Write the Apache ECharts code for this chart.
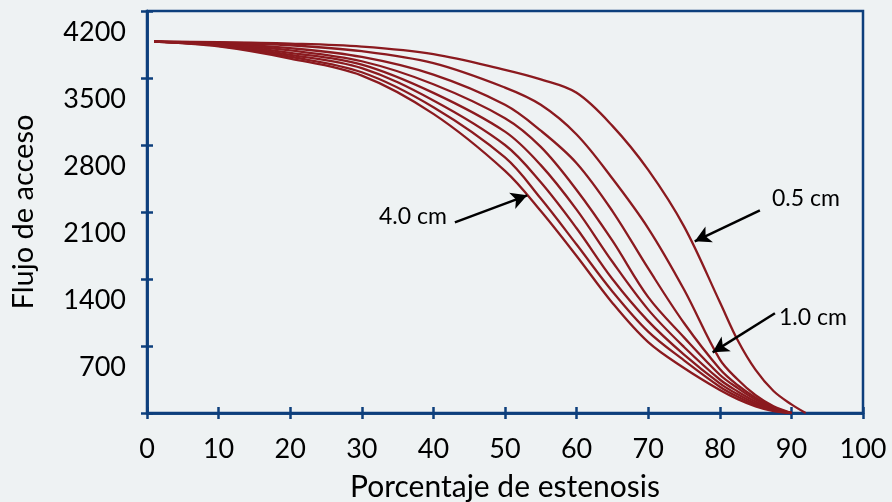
<!DOCTYPE html>
<html>
<head>
<meta charset="utf-8">
<script src="https://cdn.jsdelivr.net/npm/echarts@6/dist/echarts.min.js"></script>
<style>
html,body{margin:0;padding:0;background:#EEF2F3;}
#chart{width:892px;height:502px;}
</style>
</head>
<body>
<div id="chart"></div>
<script>
// Porcentaje de estenosis (x values)
const xValues = [1, 10, 20, 30, 40, 50, 55, 60, 65, 70, 75, 80, 82.5, 85, 87.5, 90, 92];
// Flujo de acceso per stenosis length
const curve05 = [3880, 3875, 3860, 3828, 3750, 3585, 3485, 3345, 3000, 2540, 1950, 1160, 760, 450, 230, 90, 0];
const curve10 = [3880, 3870, 3842, 3780, 3655, 3400, 3220, 2910, 2450, 1930, 1290, 560, 350, 185, 70, 0, null];
const curve15 = [3880, 3862, 3812, 3720, 3535, 3220, 2950, 2610, 2110, 1510, 940, 460, 290, 160, 60, 0, null];
const curve20 = [3880, 3855, 3788, 3675, 3435, 3080, 2780, 2330, 1800, 1210, 790, 400, 260, 140, 50, 0, null];
const curve25 = [3880, 3848, 3763, 3640, 3345, 2940, 2590, 2125, 1580, 1080, 690, 350, 225, 120, 42, 0, null];
const curve30 = [3880, 3842, 3742, 3603, 3265, 2800, 2410, 1930, 1400, 960, 610, 310, 195, 100, 35, 0, null];
const curve35 = [3880, 3836, 3722, 3560, 3195, 2670, 2240, 1760, 1270, 850, 550, 275, 170, 85, 28, 0, null];
const curve40 = [3880, 3830, 3703, 3525, 3125, 2530, 2110, 1640, 1150, 740, 470, 240, 145, 70, 20, 0, null];
const curves = [curve05, curve10, curve15, curve20, curve25, curve30, curve35, curve40];
const curveNames = ['0.5 cm', '1.0 cm', '1.5 cm', '2.0 cm', '2.5 cm', '3.0 cm', '3.5 cm', '4.0 cm'];
const xTitle = 'Porcentaje de estenosis';
const yTitle = 'Flujo de acceso';
// annotation arrows: [label, [x0,y0] tail, [x1,y1] head]
const annotations = [
  ['4.0 cm', [43.0, 1992], [53.1, 2274]],
  ['0.5 cm', [85.6, 2117], [76.5, 1794]],
  ['1.0 cm', [87.7, 1042], [79.0, 634]]
];

const blue = '#0D3F7C';
const red = '#8B1A1F';
const font = 'Lato';

const chart = echarts.init(document.getElementById('chart'), null, {renderer: 'canvas'});

const series = curves.map((c, i) => ({
  name: curveNames[i],
  type: 'line',
  data: xValues.map((x, j) => c[j] == null ? null : [x, c[j]]),
  showSymbol: false,
  smooth: 0.35,
  lineStyle: {color: red, width: 2.3},
  itemStyle: {color: red},
  silent: true,
  z: 3
}));

series[0].markLine = {
  silent: true,
  symbol: ['none', 'arrow'],
  symbolSize: [13, 16],
  label: {show: false},
  lineStyle: {color: '#000', width: 2.5, type: 'solid'},
  data: annotations.map(a => [{coord: a[1]}, {coord: a[2]}])
};

const commonX = {
  type: 'value', min: 0, max: 100, interval: 10,
  axisLine: {show: true, lineStyle: {color: blue, width: 2.5}},
  splitLine: {show: false}
};
const commonY = {
  type: 'value', min: 0, max: 4200, interval: 700,
  axisLine: {show: true, lineStyle: {color: blue, width: 2.5}},
  splitLine: {show: false}
};

chart.setOption({
  backgroundColor: '#EEF2F3',
  animation: false,
  grid: {left: 147, right: 29, top: 11, bottom: 89, containLabel: false, outerBoundsMode: 'none',
         show: true, borderColor: blue, borderWidth: 2.5, backgroundColor: 'transparent'},
  xAxis: [
    Object.assign({}, commonX, {
      position: 'bottom',
      axisTick: {show: true, inside: true, length: 6, lineStyle: {color: blue, width: 2.5}},
      axisLabel: {color: '#000', fontFamily: font, fontSize: 27, margin: 23},
      name: xTitle, nameLocation: 'middle', nameGap: 59,
      nameTextStyle: {color: '#000', fontFamily: font, fontSize: 30}
    }),
    Object.assign({}, commonX, {
      position: 'bottom',
      axisTick: {show: true, inside: false, length: 6, lineStyle: {color: blue, width: 2.5}},
      axisLabel: {show: false}
    })
  ],
  yAxis: [
    Object.assign({}, commonY, {
      position: 'left',
      axisTick: {show: true, inside: true, length: 6, lineStyle: {color: blue, width: 2.5}},
      axisLabel: {
        color: '#000', fontFamily: font, fontSize: 27, margin: 21,
        verticalAlign: 'top', lineHeight: 42,
        formatter: v => (v === 0 ? '' : String(v))
      },
      name: yTitle, nameLocation: 'middle', nameGap: 109, nameRotate: 90,
      nameTextStyle: {color: '#000', fontFamily: font, fontSize: 29}
    }),
    Object.assign({}, commonY, {
      position: 'left',
      axisTick: {show: true, inside: false, length: 6, lineStyle: {color: blue, width: 2.5}},
      axisLabel: {show: false}
    })
  ],
  series: series,
  graphic: []
});

// annotation texts placed next to arrow tails, via data->pixel conversion
const offsets = [[-42, -6], [46, -12], [38, 4]];
const g = annotations.map((a, i) => {
  const p = chart.convertToPixel({xAxisIndex: 0, yAxisIndex: 0}, a[1]);
  return {
    type: 'text',
    x: p[0] + offsets[i][0],
    y: p[1] + offsets[i][1],
    style: {text: a[0], fontFamily: font, fontSize: 23, fill: '#000', align: 'center', verticalAlign: 'middle'},
    z: 10
  };
});
chart.setOption({graphic: g});
</script>
</body>
</html>
